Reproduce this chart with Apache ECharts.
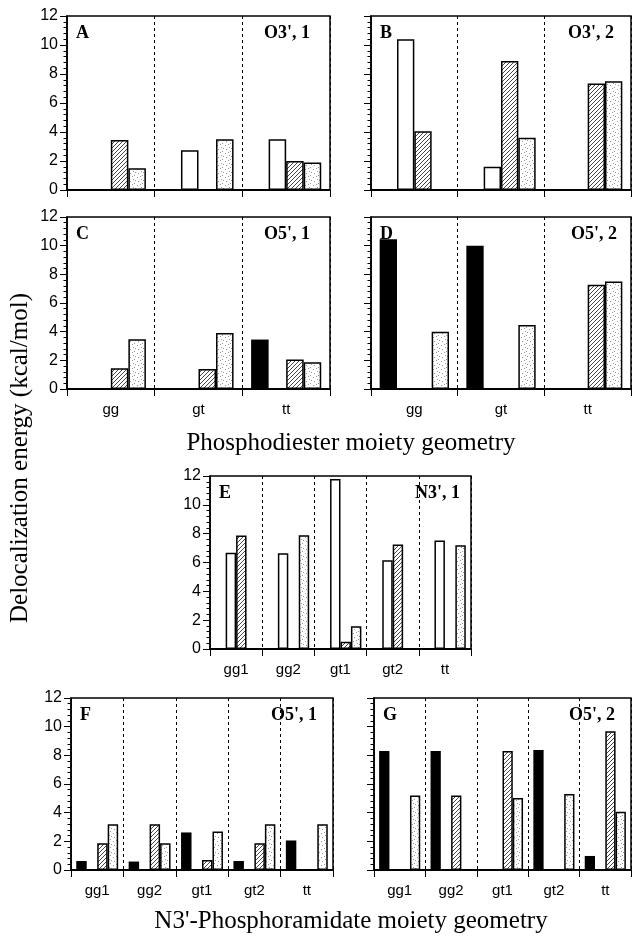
<!DOCTYPE html>
<html><head><meta charset="utf-8">
<script src="https://cdn.jsdelivr.net/npm/echarts@6/dist/echarts.min.js"></script>
<style>html,body{margin:0;padding:0;background:#fff}#c{width:632px;height:937px}</style>
</head><body><div id="c"></div>
<script>
// ---- data ----
const catsPhosphodiester = ['gg', 'gt', 'tt'];
const catsPhosphoramidate = ['gg1', 'gg2', 'gt1', 'gt2', 'tt'];
const yMin = 0, yMax = 12, yStep = 2;

const A_black = [null, null, null];
const A_open = [null, 2.75, 3.5];
const A_hatched = [3.45, null, 2.0];
const A_dotted = [1.5, 3.5, 1.9];

const B_black = [null, null, null];
const B_open = [10.4, 1.6, null];
const B_hatched = [4.05, 8.9, 7.35];
const B_dotted = [null, 3.6, 7.5];

const C_black = [null, null, 3.45];
const C_open = [null, null, null];
const C_hatched = [1.45, 1.4, 2.05];
const C_dotted = [3.47, 3.9, 1.87];

const D_black = [10.45, 10.0, null];
const D_open = [null, null, null];
const D_hatched = [null, null, 7.27];
const D_dotted = [4.0, 4.47, 7.5];

const E_black = [null, null, null, null, null];
const E_open = [6.67, 6.64, 11.8, 6.15, 7.52];
const E_hatched = [7.87, null, 0.5, 7.24, null];
const E_dotted = [null, 7.89, 1.57, null, 7.2];

const F_black = [0.63, 0.59, 2.62, 0.63, 2.06];
const F_open = [null, null, null, null, null];
const F_hatched = [1.87, 3.2, 0.7, 1.87, null];
const F_dotted = [3.2, 1.87, 2.69, 3.2, 3.2];

const G_black = [8.3, 8.3, null, 8.37, 0.98];
const G_open = [null, null, null, null, null];
const G_hatched = [null, 5.2, 8.3, null, 9.68];
const G_dotted = [5.2, null, 5.03, 5.3, 4.07];

const yTitle = 'Delocalization energy (kcal/mol)';
const xTitleTop = 'Phosphodiester moiety geometry';
const xTitleBottom = "N3'-Phosphoramidate moiety geometry";

// ---- patterns ----
function hatchPattern() {
  const c = document.createElement('canvas'); c.width = 4; c.height = 4;
  const g = c.getContext('2d');
  g.fillStyle = '#fff'; g.fillRect(0, 0, 4, 4);
  g.strokeStyle = '#333'; g.lineWidth = 0.9;
  g.beginPath();
  g.moveTo(0, 4); g.lineTo(4, 0);
  g.moveTo(-1, 1); g.lineTo(1, -1);
  g.moveTo(3, 5); g.lineTo(5, 3);
  g.stroke();
  return c;
}
function dotPattern() {
  const c = document.createElement('canvas'); c.width = 8; c.height = 8;
  const g = c.getContext('2d');
  g.fillStyle = '#fff'; g.fillRect(0, 0, 8, 8);
  g.fillStyle = '#999';
  [[1, 1], [5, 3], [2, 5], [6, 7], [4, 0], [7, 4]].forEach(p => g.fillRect(p[0], p[1], 1, 1));
  return c;
}
const fills = ['#000', '#fff', { image: hatchPattern(), repeat: 'repeat' }, { image: dotPattern(), repeat: 'repeat' }];

// ---- layout ----
const panels = [
  { grid: { left: 67, top: 16, width: 263, height: 174 }, cats: catsPhosphodiester, data: [A_black, A_open, A_hatched, A_dotted], yLab: true, xLab: false, tag: 'A', name: "O3', 1", nameOff: 20 },
  { grid: { left: 371, top: 16, width: 260, height: 174 }, cats: catsPhosphodiester, data: [B_black, B_open, B_hatched, B_dotted], yLab: false, xLab: false, tag: 'B', name: "O3', 2", nameOff: 17 },
  { grid: { left: 67, top: 217, width: 263, height: 172 }, cats: catsPhosphodiester, data: [C_black, C_open, C_hatched, C_dotted], yLab: true, xLab: true, tag: 'C', name: "O5', 1", nameOff: 20 },
  { grid: { left: 371, top: 217, width: 260, height: 172 }, cats: catsPhosphodiester, data: [D_black, D_open, D_hatched, D_dotted], yLab: false, xLab: true, tag: 'D', name: "O5', 2", nameOff: 14 },
  { grid: { left: 210, top: 476, width: 261, height: 173 }, cats: catsPhosphoramidate, data: [E_black, E_open, E_hatched, E_dotted], yLab: true, xLab: true, tag: 'E', name: "N3', 1", nameOff: 11 },
  { grid: { left: 71, top: 698, width: 262, height: 172 }, cats: catsPhosphoramidate, data: [F_black, F_open, F_hatched, F_dotted], yLab: true, xLab: true, tag: 'F', name: "O5', 1", nameOff: 16 },
  { grid: { left: 374, top: 698, width: 257, height: 172 }, cats: catsPhosphoramidate, data: [G_black, G_open, G_hatched, G_dotted], yLab: false, xLab: true, tag: 'G', name: "O5', 2", nameOff: 16 }
];

const grids = [], xAxes = [], yAxes = [], series = [], graphics = [];
panels.forEach((p, i) => {
  grids.push(Object.assign({ show: true, borderColor: '#000', borderWidth: 1.5, backgroundColor: 'transparent' }, p.grid));
  xAxes.push({
    type: 'category', gridIndex: i, data: p.cats, boundaryGap: true,
    axisLine: { show: true, lineStyle: { color: '#000', width: 2 } },
    axisTick: { show: true, interval: 0, length: 7, lineStyle: { color: '#000', width: 1 } },
    axisLabel: { show: p.xLab, interval: 0, color: '#000', fontSize: 15, fontFamily: 'Liberation Sans, Arial, sans-serif', margin: 13 },
    splitLine: { show: true, interval: 0, lineStyle: { color: '#000', width: 1, type: [3, 3] } }
  });
  yAxes.push({
    type: 'value', gridIndex: i, min: yMin, max: yMax, interval: yStep,
    axisLine: { show: true, lineStyle: { color: '#000', width: 1.5 } },
    axisTick: { show: true, length: 7, lineStyle: { color: '#000', width: 1 } },
    minorTick: { show: true, splitNumber: 5, length: 3.5, lineStyle: { color: '#000', width: 1 } },
    axisLabel: { show: p.yLab, color: '#000', fontSize: 16, fontFamily: 'Liberation Sans, Arial, sans-serif', margin: 9 },
    splitLine: { show: false }
  });
  p.data.forEach((arr, k) => {
    series.push({
      type: 'bar', xAxisIndex: i, yAxisIndex: i, data: arr,
      barGap: '0%', barCategoryGap: '20%',
      itemStyle: { color: fills[k], borderColor: '#000', borderWidth: k === 0 ? 0 : 1.5 },
      silent: true, animation: false
    });
  });
  const g = p.grid;
  graphics.push({ type: 'text', x: g.left + 9, y: g.top + 17, style: { text: p.tag, font: 'bold 18px "Liberation Serif", serif', fill: '#000', textAlign: 'left', textVerticalAlign: 'middle' } });
  graphics.push({ type: 'text', x: g.left + g.width - p.nameOff, y: g.top + 17, style: { text: p.name, font: 'bold 18px "Liberation Serif", serif', fill: '#000', textAlign: 'right', textVerticalAlign: 'middle' } });
});

graphics.push({ type: 'text', x: 20, y: 458, rotation: Math.PI / 2, style: { text: yTitle, font: '25px "Liberation Serif", serif', fill: '#000', textAlign: 'center', textVerticalAlign: 'middle' } });
graphics.push({ type: 'text', x: 351, y: 443, style: { text: xTitleTop, font: '25px "Liberation Serif", serif', fill: '#000', textAlign: 'center', textVerticalAlign: 'middle' } });
graphics.push({ type: 'text', x: 351, y: 921, style: { text: xTitleBottom, font: '25px "Liberation Serif", serif', fill: '#000', textAlign: 'center', textVerticalAlign: 'middle' } });

const chart = echarts.init(document.getElementById('c'), null, { renderer: 'canvas' });
chart.setOption({
  animation: false,
  backgroundColor: '#fff',
  grid: grids, xAxis: xAxes, yAxis: yAxes, series: series,
  graphic: graphics
});
</script></body></html>
